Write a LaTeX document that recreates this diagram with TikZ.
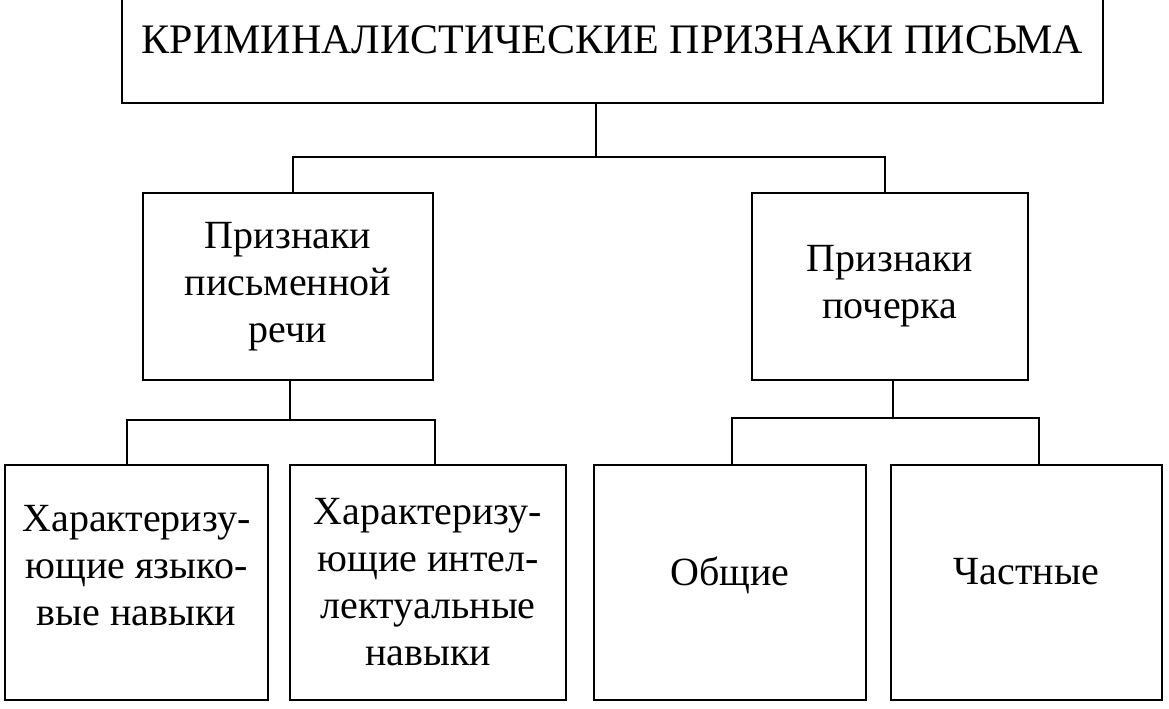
\documentclass[tikz,border=0pt]{standalone}
\usepackage{fontspec}
\setmainfont{Liberation Serif}
\usetikzlibrary{positioning}

\tikzset{
  box/.style={draw,line width=1.3pt,align=center,inner sep=0pt,
    font=\fontsize{20}{23.5}\selectfont},
  link/.style={line width=1.1pt}
}

\begin{document}
\begin{tikzpicture}[x=0.5pt,y=-0.5pt]
  \useasboundingbox (0,0) rectangle (1169,708);
  % title box, cut by the upper edge
  \begin{scope}
    \clip (0,0) rectangle (1169,708);
    \node[box,minimum width=490.5pt,minimum height=63pt,
      font=\fontsize{21}{26}\selectfont] (crim) at (612.5,40)
      {КРИМИНАЛИСТИЧЕСКИЕ ПРИЗНАКИ ПИСЬМА};
  \end{scope}
  % second level
  \node[box,minimum width=145pt,minimum height=93.5pt] (speech) at (288,286.5)
    {Признаки\\письменной\\речи};
  \node[box,minimum width=138pt,minimum height=93.5pt] (hand) at (890,286.5)
    {Признаки\\почерка};
  % third level
  \node[box,minimum width=131.5pt,minimum height=117.5pt] (lang) at (136.5,582.5)
    {Характеризу-\\ющие языко-\\вые навыки\\[-6pt]\mbox{}};
  \node[box,minimum width=138pt,minimum height=117.5pt] (intel) at (428,582.5)
    {Характеризу-\\ющие интел-\\лектуальные\\навыки};
  \node[box,minimum width=136pt,minimum height=117.5pt] (common) at (730,582.5)
    {Общие\\[-12pt]\mbox{}};
  \node[box,minimum width=135.5pt,minimum height=117.5pt] (partial) at (1026.5,582.5)
    {Частные\\[-12pt]\mbox{}};
  % junctions
  \coordinate (top bar) at (596,157);
  \coordinate (top left) at (293,157);
  \coordinate (top right) at (885,157);
  \coordinate (speech bar) at (290,420);
  \coordinate (speech left) at (127,420);
  \coordinate (speech right) at (435,420);
  \coordinate (hand bar) at (893,418);
  \coordinate (hand left) at (732,418);
  \coordinate (hand right) at (1039,418);
  % connectors
  \draw[link] (crim.south -| top bar) -- (top bar);
  \draw[link] (top left |- speech.north) -- (top left) -- (top right)
    -- (top right |- hand.north);
  \draw[link] (speech.south -| speech bar) -- (speech bar);
  \draw[link] (speech left |- lang.north) -- (speech left) -- (speech right)
    -- (speech right |- intel.north);
  \draw[link] (hand.south -| hand bar) -- (hand bar);
  \draw[link] (hand left |- common.north) -- (hand left) -- (hand right)
    -- (hand right |- partial.north);
\end{tikzpicture}
\end{document}
